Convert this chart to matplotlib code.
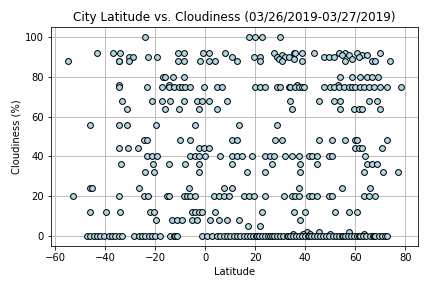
import matplotlib
matplotlib.use("Agg")
import matplotlib.pyplot as plt
import numpy as np

# Latitudes, grouped by cloudiness level (%)
lat_c100 = [-24, 17.3, 20, 22.7, 30]
lat_c92 = [-43.3, -37.1, -34, -11, -8.7, -1.1, 1.6, 8, 27.3, 35.3, 36, 38.7, 43.3, 53.3, 56, 60.7, 70]
lat_c91 = [54.7, 57.3, 62.7, 64.7, 30.5]
lat_c90 = [-30.4, -29.1, -23, -19.2, 10.7, 19.3, 22, 28.7, 32, 33.3, 47.3, 49.3, 51.3, 61.3]
lat_c89 = [35.3, 29.3, 58.5]
lat_c88 = [-55.1, -34.6, -34.4, -30.4, -11, -8.7, -2, 1.3, 3.7, 12.7, 22, 30.7, 38.7, 56, 66.7, 68, 74]
lat_c80 = [-17, -16, -13, -8.5, 54, 58.7, 62, 64.7, 66.7, 69.3]
lat_c76 = [-34.7, -14.4, 36.5, 53]
lat_c75 = [-34.7, -23.5, -17.3, -14.7, -12.7, -10.7, -9.3, -8, -6, -0.7, 4.7, 6.7,
           20, 22, 24, 28.7, 30, 33.3, 34, 36, 37.3, 38.7, 39.3, 47.3, 50, 51.3, 53.3,
           55.3, 57.3, 58.7, 60, 62, 63.3, 65.3, 67.3, 70, 72.7, 78.5]
lat_c68 = [-33.2, -21.5, -17.5, -14, -8.7, -3.3, -1.3, 1.3, 8.7, 34, 45.3, 51.3, 54, 65.3, 68.7]
lat_c64 = [-31.5, -16.3, -10.7, -2.7, 4.7, 34.7, 54, 59.3, 61.3, 62.7, 70]
lat_c56 = [-46.3, -34.4, -31.5, -19.9, -4, 13.3, 28.7]
lat_c48 = [-24.7, -23.3, -10, -6, 10.7, 12.7, 28, 30.7, 45.3, 50.7, 56, 60, 60.7, 72.7]
lat_c44 = [-34.7, -31.1, -27.1, -2.7, -0.7, 1.3, 60, 61.3, 62.7, 70.7]
lat_c40 = [-23.3, -21.3, -19.3, -6, -4, -2.7, 0, 6, 10.7, 12.7, 14.7, 18.7, 24, 26, 27.3,
           32, 34.7, 37.3, 41.3, 42.7, 44.7, 49.3, 50.7, 64]
lat_c36 = [-33.6, -21, -14.7, -8, -2.7, 10.7, 26.7, 38, 44.7, 64.7, 66.7, 68.7]
lat_c32 = [-24, -20.7, -2.7, 16.7, 24, 38, 63.3, 71.3, 77.3]
lat_c24 = [-46.3, -45.3, -26.7, -6.4, 7.3, 10.7, 37.3, 54.7, 65.7]
lat_c20 = [-53.1, -34.7, -24.7, -22.9, -15.3, -14.4, -8.7, -7.3, -6, -4, 3.3, 5.3, 7.3, 9.3,
           15.3, 17.3, 19.3, 24, 31.3, 34.7, 36, 37.3, 41.3, 42.7, 44.7, 49.3, 50.7, 63.3, 65.3, 68]
lat_c12 = [-46.3, -39.9, -34, -22, -20.7, -5.3, -4, -2.7, -1.3, 4, 22.7, 35.3, 40, 52, 57.3, 60.7]
lat_c8 = [-19.9, -13.5, -11.3, -9.3, -5.3, -3.3, 2, 5.3, 8.7, 13.3, 37.7]
lat_c5 = [17, 22]
lat_c2 = [40.5, 45.5, 57.5]
lat_c1 = [35, 39, 42, 50, 63.5]
lat_c0 = [-47.3, -46, -44.7, -43.3, -42, -40.7, -38.7, -37.3, -36, -34.7, -33.3, -28.7,
          -26.7, -25.3, -24, -22.7, -21.3, -20, -18, -14, -12.7, -12, -11.3, -1.3, 0.7, 2.7,
          4.7, 6, 7.3, 8.7, 10, 11.3, 12.7, 14, 15.3, 16.7, 18, 19, 20.3, 20.8, 21.5, 22.8,
          24, 25.2, 26, 26.5, 27.6, 28.8, 30, 31.2, 32.5, 33, 33.8, 35, 36.1, 37.4, 38.5,
          39.7, 41, 41.5, 42.2, 43.5, 44.7, 46, 47.2, 48.4, 49.6, 50.9, 52.1, 53.3, 54.5,
          55, 55.8, 57, 58.2, 59.5, 60.7, 61.4, 62, 63.2, 64.4, 65.7, 66.9, 67.5, 68.1,
          69.4, 70.6, 71.8, 72.7]

bands = [(100, lat_c100), (92, lat_c92), (91, lat_c91), (90, lat_c90), (89, lat_c89),
         (88, lat_c88), (80, lat_c80), (76, lat_c76), (75, lat_c75), (68, lat_c68),
         (64, lat_c64), (56, lat_c56), (48, lat_c48), (44, lat_c44), (40, lat_c40),
         (36, lat_c36), (32, lat_c32), (24, lat_c24), (20, lat_c20), (12, lat_c12),
         (8, lat_c8), (5, lat_c5), (2, lat_c2), (1, lat_c1), (0, lat_c0)]

latitude = []
cloudiness = []
for c, lats in bands:
    latitude.extend(lats)
    cloudiness.extend([c] * len(lats))

fig = plt.figure(figsize=(6, 4), dpi=72)
ax = fig.add_axes([0.118, 0.146, 0.850, 0.760])
ax.scatter(latitude, cloudiness, marker="o", facecolors="lightblue",
           edgecolors="black", s=34, linewidths=1, zorder=3)
ax.set_title("City Latitude vs. Cloudiness (03/26/2019-03/27/2019)")
ax.set_xlabel("Latitude")
ax.set_ylabel("Cloudiness (%)")
ax.grid(True)
ax.set_axisbelow(True)
fig.savefig("out.png", dpi=72)
